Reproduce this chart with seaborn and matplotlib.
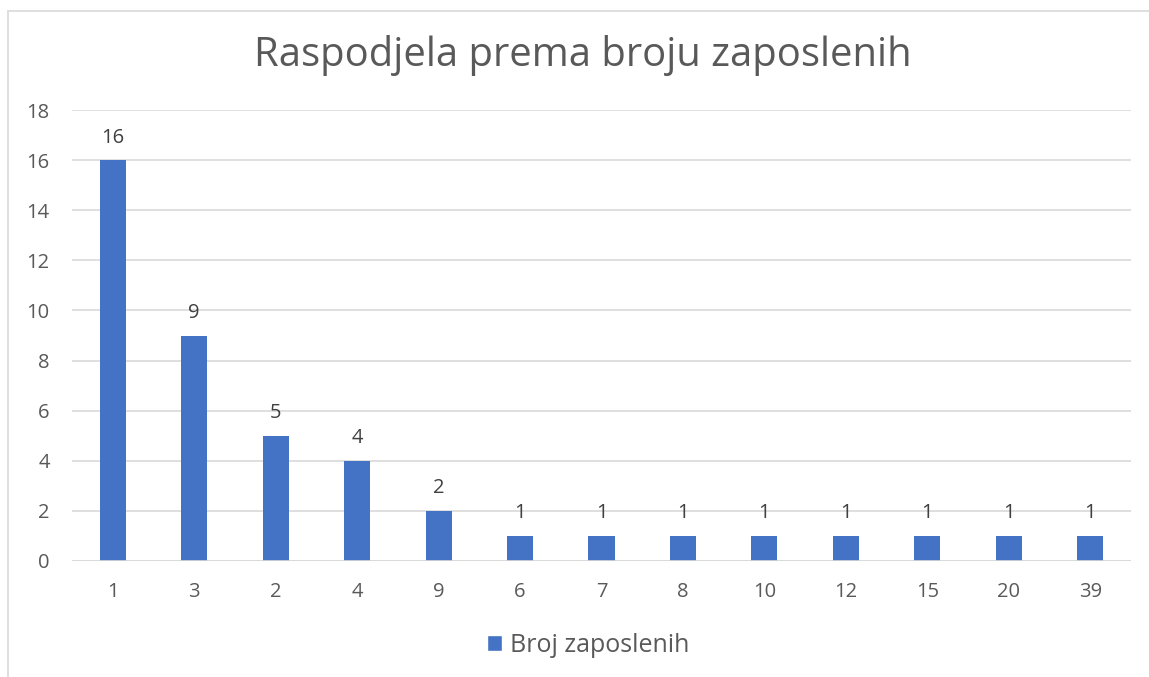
import matplotlib
matplotlib.use("Agg")
import matplotlib.pyplot as plt
import seaborn as sns
import pandas as pd
from matplotlib.lines import Line2D
from matplotlib.patches import Patch

# broj zaposlenih (kategorije) i broj poduzeca
categories = ["1", "3", "2", "4", "9", "6", "7", "8", "10", "12", "15", "20", "39"]
counts = [16, 9, 5, 4, 2, 1, 1, 1, 1, 1, 1, 1, 1]
series_name = "Broj zaposlenih"
title = "Raspodjela prema broju zaposlenih"

df = pd.DataFrame({"kategorija": categories, "broj": counts})

sns.set_style("white")
plt.rcParams['font.family'] = ['Open Sans', 'DejaVu Sans']
text_col = "#595959"
bar_col = "#4472C4"

fig = plt.figure(figsize=(11.49, 6.77), dpi=100)
ax = fig.add_axes([72/1149, 1 - 561/677, (1131 - 72)/1149, (561 - 110)/677])

sns.barplot(data=df, x="kategorija", y="broj", order=categories, color=bar_col,
            width=0.32, ax=ax, saturation=1, linewidth=0)

ax.set_ylim(0, 18)
ax.set_xlim(-0.5, len(categories) - 0.5)
ax.set_yticks(range(0, 19, 2))
ax.yaxis.grid(True, color="#D9D9D9", linewidth=1.2)
ax.set_axisbelow(True)
for s in ax.spines.values():
    s.set_visible(False)
ax.axhline(0, color="#D9D9D9", linewidth=1.2)
ax.tick_params(axis="both", length=0, labelsize=14.5, colors=text_col)
ax.tick_params(axis="x", pad=15)
ax.tick_params(axis="y", pad=16)
ax.set_xlabel("")
ax.set_ylabel("")

for c in ax.containers:
    ax.bar_label(c, fmt="%d", padding=9, fontsize=14.5, color="#404040")

fig.text(583/1149, 1 - 55/677, title, ha="center", va="center", fontsize=28.8, color=text_col)

fig.legend(handles=[Patch(facecolor=bar_col, label=series_name)],
           loc="center", bbox_to_anchor=(588/1149, 1 - 645/677), frameon=False,
           fontsize=18, labelcolor=text_col, handlelength=0.6, handleheight=0.6,
           handletextpad=0.3)

# okvir grafikona
fig.add_artist(Line2D([8/1149, 8/1149], [0, 1 - 11/677], color="#D9D9D9", linewidth=1.2))
fig.add_artist(Line2D([8/1149, 1], [1 - 11/677, 1 - 11/677], color="#D9D9D9", linewidth=1.2))

fig.savefig("out.png", dpi=100)
